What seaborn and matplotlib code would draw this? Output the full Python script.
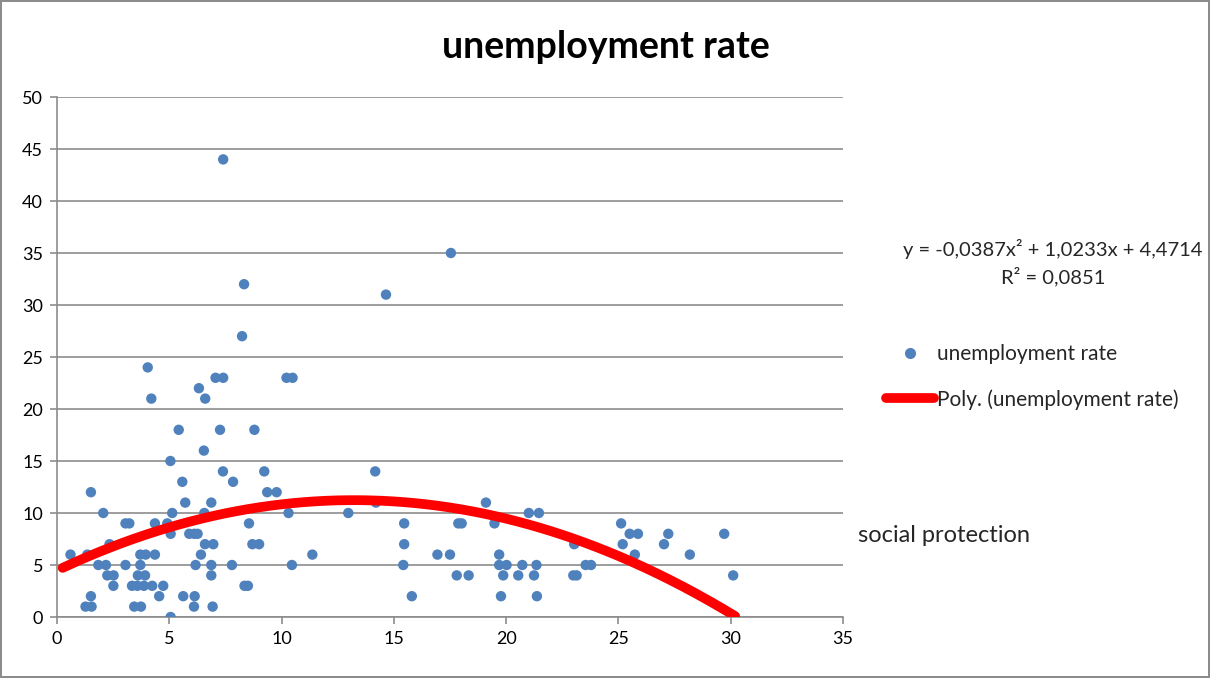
import numpy as np
import pandas as pd
import matplotlib
matplotlib.use("Agg")
import matplotlib.pyplot as plt
import seaborn as sns
from matplotlib.lines import Line2D

# social protection spending (x) vs unemployment rate (y)
social_protection = [
    0.6, 1.35, 1.27, 1.54, 1.51, 1.51, 1.84, 2.18, 2.06, 2.24, 2.52, 2.34, 2.51,
    3.05, 3.22, 3.05, 3.34, 3.58, 3.87, 4.24, 4.73, 3.44, 3.74, 3.6, 3.92,
    3.71, 3.95, 4.36, 3.71, 4.04, 4.2, 4.36, 4.55, 4.91, 5.05, 5.06, 5.06,
    5.13, 5.42, 5.58, 5.62, 5.71, 5.89, 6.11, 6.26, 6.13, 6.1, 6.17, 6.32,
    6.41, 6.54, 6.56, 6.6, 6.59, 6.96, 6.87, 6.87, 6.87, 6.93, 7.06, 7.4,
    7.26, 7.39, 7.4, 7.79, 7.84, 8.24, 8.33, 8.35, 8.5, 8.55, 8.7, 9.0,
    8.79, 9.23, 9.36, 9.78, 10.22, 10.49, 10.31, 10.46, 11.37, 12.97, 14.17,
    14.2, 14.65, 15.46, 15.46, 15.42, 15.8, 16.94, 17.5, 17.54, 17.8, 18.33,
    17.87, 18.02, 19.1, 19.48, 19.69, 19.69, 20.02, 19.87, 19.77, 20.54,
    20.72, 21.01, 21.46, 21.24, 21.35, 21.37, 22.99, 23.14, 23.03, 23.54,
    23.78, 25.12, 25.19, 25.5, 25.87, 25.73, 27.03, 27.22, 28.18, 29.71, 30.11,
]
unemployment_rate = [
    6, 6, 1, 1, 2, 12, 5, 5, 10, 4, 4, 7, 3,
    9, 9, 5, 3, 3, 3, 3, 3, 1, 1, 4, 4,
    6, 6, 6, 5, 24, 21, 9, 2, 9, 15, 8, 0,
    10, 18, 13, 2, 11, 8, 8, 8, 2, 1, 5, 22,
    6, 16, 10, 21, 7, 7, 11, 5, 4, 1, 23, 23,
    18, 14, 44, 5, 13, 27, 32, 3, 3, 9, 7, 7,
    18, 14, 12, 12, 23, 23, 10, 5, 6, 10, 14,
    11, 31, 9, 7, 5, 2, 6, 6, 35, 4, 4,
    9, 9, 11, 9, 6, 5, 5, 4, 2, 4,
    5, 10, 10, 4, 5, 2, 4, 4, 7, 5,
    5, 9, 7, 8, 8, 6, 7, 8, 6, 8, 4,
]

# second-order polynomial trendline: y = a*x^2 + b*x + c
trend_coefs = [-0.0387, 1.0233, 4.4714]
trend_span = [0.25, 30.2]
r_squared = 0.0851

x_ticks = [0, 5, 10, 15, 20, 25, 30, 35]
y_ticks = [0, 5, 10, 15, 20, 25, 30, 35, 40, 45, 50]

points = pd.DataFrame({"social protection": social_protection,
                       "unemployment rate": unemployment_rate})
tx = np.linspace(trend_span[0], trend_span[1], 300)
trend = pd.DataFrame({"x": tx, "y": np.polyval(trend_coefs, tx)})

sns.set_theme(style="white")
plt.rcParams["font.family"] = ["Lato", "DejaVu Sans"]

fig = plt.figure(figsize=(12.1, 6.78), dpi=100)
fig.patch.set_facecolor("white")
fig.patch.set_edgecolor("#8c8c8c")
fig.patch.set_linewidth(1.5)
ax = fig.add_axes([57 / 1210, 1 - 617 / 678, (843 - 57) / 1210, (617 - 97) / 678])

blue = "#4F81BD"
sns.scatterplot(data=points, x="social protection", y="unemployment rate",
                color=blue, s=56, edgecolor="none", ax=ax, zorder=3, legend=False)
sns.lineplot(data=trend, x="x", y="y", color="#FF0000", linewidth=7,
             ax=ax, zorder=4, sort=False, estimator=None, legend=False)

ax.set_xlim(0, 35)
ax.set_ylim(0, 50)
ax.set_xticks(x_ticks)
ax.set_yticks(y_ticks)
ax.set_xlabel("")
ax.set_ylabel("")
ax.yaxis.grid(True, color="#8c8c8c", linewidth=1.2)
ax.xaxis.grid(False)
ax.set_axisbelow(True)
for side in ("top", "right"):
    ax.spines[side].set_visible(False)
for side in ("left", "bottom"):
    ax.spines[side].set_color("#8c8c8c")
    ax.spines[side].set_linewidth(1.2)
ax.tick_params(axis="both", direction="out", length=5, width=1.2,
               color="#8c8c8c", labelsize=13, labelcolor="#000000",
               bottom=True, left=True, pad=5)

fig.text(606 / 1210, 1 - 47 / 678, "unemployment rate", ha="center", va="center",
         fontsize=27, fontweight="bold", color="#000000")

a, b, c = trend_coefs
eq = (f"y = {a:.4f}x² + {b:.4f}x + {c:.4f}".replace(".", ",")
      .replace("x + -", "x - "))
fig.text(1053 / 1210, 1 - 249 / 678, eq, ha="center", va="center", fontsize=14.5)
fig.text(1053 / 1210, 1 - 277 / 678, f"R² = {r_squared:.4f}".replace(".", ","),
         ha="center", va="center", fontsize=14.5)

handles = [
    Line2D([], [], linestyle="none", marker="o", markersize=8,
           markerfacecolor=blue, markeredgecolor="none"),
    Line2D([], [], color="#FF0000", linewidth=7, solid_capstyle="round"),
]
fig.legend(handles, ["unemployment rate", "Poly. (unemployment rate)"],
           loc="upper left", bbox_to_anchor=(886 / 1210, 1 - 344 / 678),
           frameon=False, fontsize=15, handlelength=2.3, handletextpad=0.15,
           labelspacing=1.2, borderaxespad=0, borderpad=0)

fig.text(858 / 1210, 1 - 535 / 678, "social protection", ha="left", va="center",
         fontsize=17)

fig.savefig("out.png", dpi=100)
